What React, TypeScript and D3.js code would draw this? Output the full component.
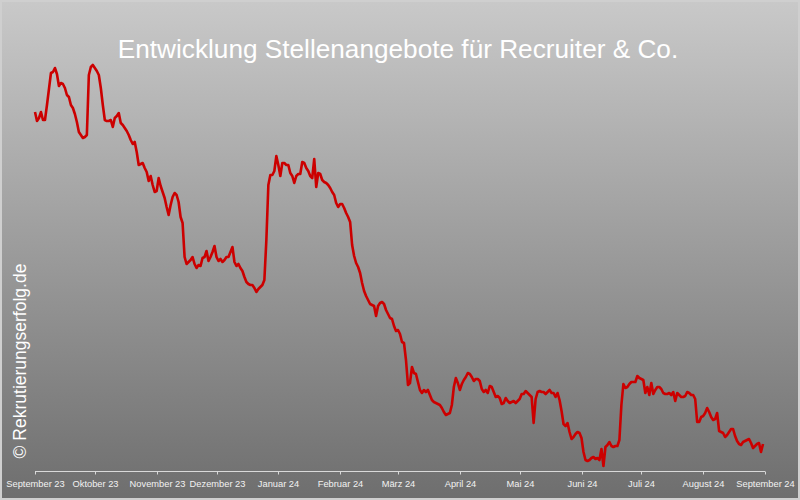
import React from "react";
import * as d3 from "d3";

const START = "2023-09-01";
const END = "2024-09-01";

// Daily index values (one per day from START)
const values: number[] = [
  358, 349, 352, 358, 350, 350, 365, 381, 397, 398, 402, 396, 384, 387, 386, 382, 375, 373, 365, 362,
  356, 348, 338, 335, 332, 333, 335, 395, 403, 405, 402, 399, 395, 382, 365, 350, 349, 349, 350, 343,
  352, 354, 357, 347, 345, 342, 339, 335, 330, 326, 328, 318, 305, 306, 307, 302, 298, 289, 294, 285,
  278, 279, 292, 284, 278, 272, 263, 255, 265, 273, 277, 275, 268, 253, 247, 213, 206, 208, 210, 213,
  206, 202, 205, 204, 212, 213, 219, 209, 213, 218, 224, 213, 209, 211, 208, 210, 213, 213, 218, 223,
  208, 204, 206, 202, 199, 193, 188, 186, 185, 185, 182, 178, 181, 183, 185, 190, 230, 285, 295, 295,
  299, 314, 305, 294, 307, 307, 305, 305, 297, 294, 287, 294, 296, 296, 308, 307, 302, 299, 294, 292,
  311, 283, 297, 296, 290, 288, 287, 285, 282, 278, 275, 267, 263, 266, 266, 262, 257, 253, 248, 225,
  214, 207, 203, 197, 187, 179, 174, 170, 166, 165, 164, 154, 164, 167, 168, 166, 160, 156, 152, 151,
  144, 139, 140, 136, 128, 127, 110, 85, 87, 103, 97, 96, 88, 80, 77, 80, 78, 80, 75, 70,
  68, 67, 66, 65, 62, 58, 55, 56, 57, 65, 83, 92, 87, 80, 86, 90, 93, 97, 96, 93,
  89, 91, 91, 89, 81, 78, 80, 77, 84, 83, 78, 73, 74, 72, 66, 67, 72, 69, 67, 68,
  69, 67, 69, 71, 76, 76, 79, 77, 75, 73, 47, 71, 78, 79, 78, 78, 76, 78, 80, 77,
  77, 73, 77, 70, 59, 46, 44, 47, 38, 31, 33, 36, 38, 37, 32, 18, 10, 9, 10, 12,
  13, 11, 12, 10, 21, 4, 23, 25, 28, 24, 23, 24, 24, 30, 65, 86, 82, 83, 86, 88,
  88, 88, 94, 92, 91, 90, 77, 83, 75, 87, 76, 80, 83, 83, 81, 77, 76, 76, 77, 75,
  78, 69, 77, 75, 73, 73, 74, 78, 77, 75, 75, 71, 48, 48, 53, 54, 57, 62, 58, 53,
  50, 51, 57, 39, 38, 37, 33, 35, 38, 41, 41, 34, 29, 26, 25, 28, 29, 30, 31, 27,
  22, 24, 26, 27, 18, 26,
];

const tickDates = [
  "2023-09-01", "2023-10-01", "2023-11-01", "2023-12-01", "2024-01-01", "2024-02-01", "2024-03-01",
  "2024-04-01", "2024-05-01", "2024-06-01", "2024-07-01", "2024-08-01", "2024-09-01",
];
const tickLabels = [
  "September 23", "Oktober 23", "November 23", "Dezember 23", "Januar 24", "Februar 24", "März 24",
  "April 24", "Mai 24", "Juni 24", "Juli 24", "August 24", "September 24",
];

const title = "Entwicklung Stellenangebote für Recruiter & Co.";
const credit = "© Rekrutierungserfolg.de";

export default function App() {
  const W = 800;
  const H = 500;
  const parse = d3.utcParse("%Y-%m-%d");
  const start = parse(START) as Date;
  const end = parse(END) as Date;
  const dates = values.map((_, i) => d3.utcDay.offset(start, i));

  const x = d3.scaleUtc().domain([start, end]).range([35, 765]);
  const y = d3.scaleLinear().domain([0, 420]).range([470, 50]);

  const line = d3
    .line<number>()
    .x((_, i) => x(dates[i]))
    .y((d) => y(d));

  const axisY = 471.5;
  const font = "'Liberation Sans', Arial, sans-serif";

  return (
    <svg
      width={W}
      height={H}
      style={{ position: "absolute", left: 0, top: 0, display: "block" }}
    >
      <defs>
        <linearGradient id="bg" x1="0" y1="0" x2="0" y2="1">
          <stop offset="0%" stopColor="#c9c9c9" />
          <stop offset="100%" stopColor="#6e6e6e" />
        </linearGradient>
      </defs>
      <rect x={0} y={0} width={W} height={H} fill="url(#bg)" />
      <rect x={1} y={1} width={W - 2} height={H - 2} fill="none" stroke="#cfcfcf" strokeWidth={2} />

      <text
        x={398}
        y={58}
        textAnchor="middle"
        fill="#ffffff"
        fontFamily={font}
        fontSize={26.2}
      >
        {title}
      </text>

      <text
        transform={`translate(26,361) rotate(-90)`}
        textAnchor="middle"
        fill="#ffffff"
        fontFamily={font}
        fontSize={17.5}
      >
        {credit}
      </text>

      <path d={line(values) || ""} fill="none" stroke="#cc0000" strokeWidth={2.6} strokeLinejoin="round" />

      <g>
        <line x1={x(start)} x2={x(end)} y1={axisY} y2={axisY} stroke="#d9d9d9" strokeWidth={1} />
        {tickDates.map((t, i) => {
          const tx = Math.round(x(parse(t) as Date)) + 0.5;
          return (
            <g key={t}>
              <line x1={tx} x2={tx} y1={axisY} y2={axisY + 3} stroke="#d9d9d9" strokeWidth={1} />
              <text
                x={tx}
                y={487}
                textAnchor="middle"
                fill="#f2f2f2"
                fontFamily={font}
                fontSize={9.3}
              >
                {tickLabels[i]}
              </text>
            </g>
          );
        })}
      </g>
    </svg>
  );
}
